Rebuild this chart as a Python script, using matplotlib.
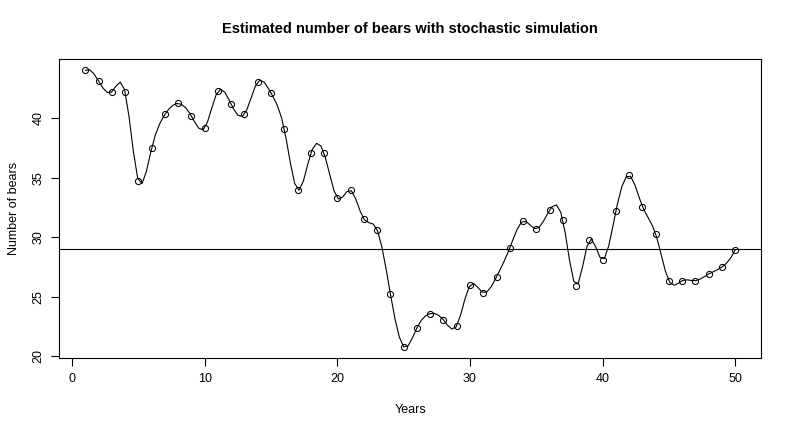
import numpy as np
import matplotlib
matplotlib.use("Agg")
import matplotlib.pyplot as plt

plt.rcParams["font.family"] = ["Liberation Sans", "DejaVu Sans"]

years = list(range(1, 51))
bears = [44.0, 43.1, 42.2, 42.2, 34.75, 37.46, 40.31, 41.23, 40.17, 39.16,
         42.26, 41.15, 40.31, 43.04, 42.09, 39.07, 33.96, 37.05, 37.05, 33.28,
         33.95, 31.52, 30.63, 25.25, 20.81, 22.4, 23.6, 23.07, 22.57, 25.97,
         25.35, 26.68, 29.1, 31.36, 30.69, 32.27, 31.44, 25.94, 29.77, 28.09,
         32.19, 35.2, 32.58, 30.27, 26.33, 26.36, 26.36, 26.92, 27.5, 28.95]
ref_level = 29.0


def spline_curve(x, y, n):
    # cubic spline (not-a-knot ends) sampled at n points, like R's spline()
    x = np.asarray(x, float)
    y = np.asarray(y, float)
    k = len(x)
    h = np.diff(x)
    A = np.zeros((k, k))
    b = np.zeros(k)
    A[0, 0], A[0, 1], A[0, 2] = h[1], -(h[0] + h[1]), h[0]
    A[-1, -3], A[-1, -2], A[-1, -1] = h[-1], -(h[-2] + h[-1]), h[-2]
    for i in range(1, k - 1):
        A[i, i - 1] = h[i - 1]
        A[i, i] = 2 * (h[i - 1] + h[i])
        A[i, i + 1] = h[i]
        b[i] = 6 * ((y[i + 1] - y[i]) / h[i] - (y[i] - y[i - 1]) / h[i - 1])
    M = np.linalg.solve(A, b)
    xs = np.linspace(x[0], x[-1], n)
    idx = np.clip(np.searchsorted(x, xs) - 1, 0, k - 2)
    x0, x1 = x[idx], x[idx + 1]
    hh = x1 - x0
    ys = (M[idx] * (x1 - xs) ** 3 / (6 * hh) + M[idx + 1] * (xs - x0) ** 3 / (6 * hh)
          + (y[idx] / hh - M[idx] * hh / 6) * (x1 - xs)
          + (y[idx + 1] / hh - M[idx + 1] * hh / 6) * (xs - x0))
    return xs, ys


fig = plt.figure(figsize=(7.92, 4.32), dpi=100)
ax = fig.add_axes([0.0749, 0.1713, 0.8863, 0.6914])

ax.plot(years, bears, "o", mfc="none", mec="black", ms=4.4, mew=0.75)
sx, sy = spline_curve(years, bears, 3 * len(years))
ax.plot(sx, sy, color="black", lw=0.8)
ax.axhline(ref_level, color="black", lw=0.8)

ax.set_xlim(-0.96, 51.96)
ax.set_ylim(19.87, 44.93)
ax.set_xticks([0, 10, 20, 30, 40, 50])
ax.set_yticks([20, 25, 30, 35, 40])
ax.tick_params(direction="out", length=5.5, width=0.8, labelsize=9, colors="black", pad=5)
for lab in ax.get_yticklabels():
    lab.set_rotation(90)
    lab.set_va("center")
for spine in ax.spines.values():
    spine.set_linewidth(0.8)

ax.set_title("Estimated number of bears with stochastic simulation",
             fontsize=10.5, fontweight="bold", pad=19)
ax.set_xlabel("Years", fontsize=9, labelpad=14)
ax.set_ylabel("Number of bears", fontsize=9, labelpad=9)

fig.savefig("out.png", dpi=100)
